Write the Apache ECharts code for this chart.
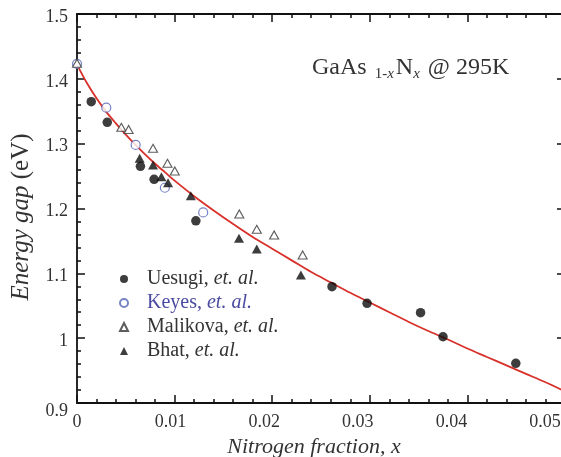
<!DOCTYPE html>
<html><head><meta charset="utf-8">
<script src="https://cdn.jsdelivr.net/npm/echarts@6/dist/echarts.min.js"></script>
<style>html,body{margin:0;padding:0;background:#fff}#c{width:561px;height:457px}</style>
</head><body><div id="c"></div>
<script>
// ---- data ----
const uesugiX = [0.00146, 0.0031, 0.0065, 0.0079, 0.01218, 0.02613, 0.02972, 0.0352, 0.0375, 0.04496];
const uesugiY = [1.3647, 1.333, 1.265, 1.245, 1.181, 1.0794, 1.0537, 1.0393, 1.0022, 0.9612];

const keyesX = [0, 0.003, 0.00601, 0.009, 0.01293];
const keyesY = [1.423, 1.3555, 1.298, 1.232, 1.194];

const malikovaX = [0, 0.00454, 0.00529, 0.00779, 0.00927, 0.01002, 0.01663, 0.01842, 0.0202, 0.02312];
const malikovaY = [1.424, 1.3252, 1.322, 1.2928, 1.2697, 1.2578, 1.1915, 1.1679, 1.1591, 1.1283];

const bhatX = [0.00642, 0.00779, 0.00865, 0.00933, 0.01166, 0.0166, 0.01842, 0.02294];
const bhatY = [1.2774, 1.2671, 1.249, 1.2398, 1.2197, 1.154, 1.1375, 1.0974];

const fitX = [0, 0.001, 0.002, 0.003, 0.004, 0.005, 0.006, 0.007, 0.008, 0.009, 0.010, 0.012, 0.014, 0.016, 0.018, 0.020,
  0.022, 0.024, 0.026, 0.028, 0.030, 0.032, 0.034, 0.036, 0.038, 0.040, 0.042, 0.044, 0.046, 0.048, 0.050];
const fitY = [1.422, 1.394, 1.370, 1.349, 1.331, 1.314, 1.298, 1.283, 1.269, 1.256, 1.243, 1.219, 1.197, 1.176, 1.156, 1.138,
  1.120, 1.102, 1.086, 1.070, 1.055, 1.040, 1.025, 1.011, 0.998, 0.984, 0.971, 0.958, 0.945, 0.932, 0.918];

const seriesNames = ['Uesugi', 'Keyes', 'Malikova', 'Bhat'];
const xTickLabels = ['0', '0.01', '0.02', '0.03', '0.04', '0.05'];
const yTickLabels = ['0.9', '1', '1.1', '1.2', '1.3', '1.4', '1.5'];
const xName = 'Nitrogen fraction, x';
const yNameItalic = 'Energy gap ';
const yNameUpright = '(eV)';
const annotation = ['GaAs ', '1-', 'x', 'N', 'x', ' @ 295K'];

// ---- chart ----
const chart = echarts.init(document.getElementById('c'), null, { renderer: 'canvas' });
const FONT = '"Liberation Serif", "DejaVu Serif", serif';
const TXT = '#333333';
const pairs = (xs, ys) => xs.map((x, i) => [x, ys[i]]);

const xRich = {};
xTickLabels.forEach((t, i) => {
  xRich['s' + i] = { fontFamily: FONT, fontSize: 18, color: TXT, padding: [0, Math.round(i * 8), 0, 0] };
});
const yRich = {};
yTickLabels.forEach((t, i) => {
  yRich['t' + i] = { fontFamily: FONT, fontSize: 18, color: TXT, padding: [i === 0 ? 17 : 6, 0, 0, 0] };
});

// fresh objects for every axis (shared references lose the ticks)
function axisParts() {
  return {
    axisLine: { show: true, onZero: false, lineStyle: { color: '#111', width: 1.8 } },
    axisTick: { show: true, inside: true, length: 8, lineStyle: { color: '#111', width: 1.5 } },
    minorTick: { show: true, splitNumber: 5, length: 4, lineStyle: { color: '#111', width: 1.5 } },
    splitLine: { show: false }, minorSplitLine: { show: false }
  };
}

const legendLabels = {
  Uesugi: '{n|Uesugi, }{i|et. al.}',
  Keyes: '{nb|Keyes, }{ib|et. al.}',
  Malikova: '{n|Malikova, }{i|et. al.}',
  Bhat: '{n|Bhat, }{i|et. al.}'
};

const option = {
  backgroundColor: '#fff',
  animation: false,
  grid: { left: 77, top: 14, width: 488, height: 389, outerBoundsMode: 'none', containLabel: false },
  title: {
    left: 307, top: 51,
    text: '{m|' + annotation[0] + '}{s|' + annotation[1] + '}{si|' + annotation[2] + '}{m|' + annotation[3] + '}{si|' + annotation[4] + '}{m|' + annotation[5] + '}',
    textStyle: {
      fontWeight: 'normal',
      rich: {
        m: { fontFamily: FONT, fontSize: 24, fontWeight: 'normal', color: TXT, verticalAlign: 'top', lineHeight: 26 },
        s: { fontFamily: FONT, fontSize: 15, fontWeight: 'normal', color: TXT, verticalAlign: 'top', lineHeight: 17, padding: [11, 0, 0, 2] },
        si: { fontFamily: FONT, fontSize: 15, fontWeight: 'normal', fontStyle: 'italic', color: TXT, verticalAlign: 'top', lineHeight: 17, padding: [11, 2, 0, 0] }
      }
    }
  },
  legend: {
    data: seriesNames,
    orient: 'vertical', left: 114, top: 264,
    itemWidth: 8, itemHeight: 8, itemGap: 4,
    formatter: name => legendLabels[name],
    textStyle: {
      rich: {
        n: { fontFamily: FONT, fontSize: 20, color: TXT, lineHeight: 19 },
        i: { fontFamily: FONT, fontSize: 20, fontStyle: 'italic', color: TXT, lineHeight: 19 },
        nb: { fontFamily: FONT, fontSize: 20, color: '#4a4aa0', lineHeight: 19 },
        ib: { fontFamily: FONT, fontSize: 20, fontStyle: 'italic', color: '#4a4aa0', lineHeight: 19 }
      },
      padding: [0, 0, 0, 14]
    }
  },
  xAxis: [
    Object.assign({ type: 'value', min: 0, max: 0.05, interval: 0.01, position: 'bottom' }, axisParts(), {
      name: xName, nameLocation: 'middle', nameGap: 25,
      nameTextStyle: { fontFamily: FONT, fontSize: 22, fontStyle: 'italic', color: TXT, padding: [0, 14, 0, 0] },
      axisLabel: {
        show: true, margin: 10,
        formatter: v => { const i = Math.round(v / 0.01); return '{s' + i + '|' + xTickLabels[i] + '}'; },
        rich: xRich
      }
    }),
    Object.assign({ type: 'value', min: 0, max: 0.05, interval: 0.01, position: 'top' }, axisParts(), { axisLabel: { show: false } })
  ],
  yAxis: [
    Object.assign({ type: 'value', min: 0.9, max: 1.5, interval: 0.1, position: 'left' }, axisParts(), {
      name: '{i|' + yNameItalic + '}{n|' + yNameUpright + '}', nameLocation: 'middle', nameGap: 43,
      nameTextStyle: {
        padding: [0, 17, 0, 0],
        rich: {
          i: { fontFamily: FONT, fontSize: 25, fontStyle: 'italic', color: TXT },
          n: { fontFamily: FONT, fontSize: 25, color: TXT }
        }
      },
      axisLabel: {
        show: true, margin: 9,
        formatter: v => { const i = Math.round((v - 0.9) / 0.1); return '{t' + i + '|' + yTickLabels[i] + '}'; },
        rich: yRich
      }
    }),
    Object.assign({ type: 'value', min: 0.9, max: 1.5, interval: 0.1, position: 'right' }, axisParts(), { axisLabel: { show: false } })
  ],
  series: [
    {
      name: 'fit', type: 'line', data: pairs(fitX, fitY), showSymbol: false, smooth: 0.3,
      lineStyle: { color: '#d8302a', width: 1.8 }, z: 1, silent: true
    },
    {
      name: 'Uesugi', type: 'scatter', data: pairs(uesugiX, uesugiY), symbol: 'circle', symbolSize: 9.5,
      itemStyle: { color: '#0d0d0d' }, z: 3
    },
    {
      name: 'Keyes', type: 'scatter', data: pairs(keyesX, keyesY), symbol: 'circle', symbolSize: 9,
      itemStyle: { color: '#ffffff', borderColor: '#5565b5', borderWidth: 1.2 }, z: 2
    },
    {
      name: 'Malikova', type: 'scatter', data: pairs(malikovaX, malikovaY), symbol: 'triangle', symbolSize: [9, 8],
      itemStyle: { color: '#ffffff', borderColor: '#333', borderWidth: 1.1 }, z: 2
    },
    {
      name: 'Bhat', type: 'scatter', data: pairs(bhatX, bhatY), symbol: 'triangle', symbolSize: [10, 9],
      itemStyle: { color: '#0d0d0d' }, z: 3
    }
  ]
};
chart.setOption(option);
</script>
</body></html>
